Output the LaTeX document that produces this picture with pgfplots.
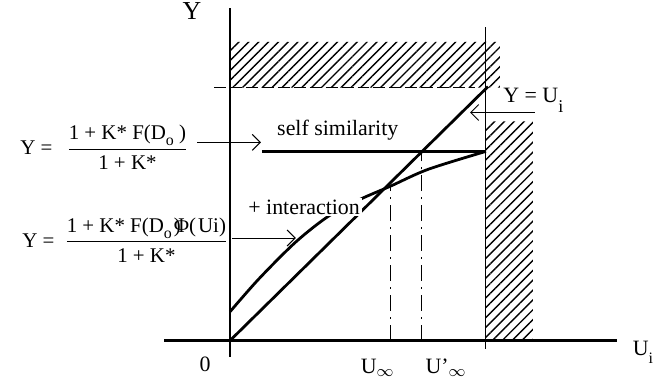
\documentclass[border=0pt]{standalone}
\usepackage{fontspec}
\setmainfont{Liberation Serif}
\usepackage{amsmath}
\usepackage{pgfplots}
\pgfplotsset{compat=1.18}
\usetikzlibrary{arrows.meta,patterns.meta}

\newcommand{\lowsub}[2]{\raisebox{-#1}{\fontsize{8}{9}\selectfont #2}}

\begin{document}
\begin{tikzpicture}
\begin{axis}[
x=0.5pt,y=0.5pt,
xmin=-231,xmax=422,
ymin=-39,ymax=342,
axis lines=none,
clip=false,
every axis plot/.append style={black,no markers},
]
% keep the page the size of the reference
\path (axis cs:-231,-39) rectangle (axis cs:422,342);
% hatched regions
\addplot[draw=none,pattern={Lines[angle=45,distance=3.5pt,line width=0.7pt]}]
  coordinates {(0,254)(271,254)(271,300)(0,300)} \closedcycle;
\addplot[draw=none,pattern={Lines[angle=45,distance=3.5pt,line width=0.7pt]}]
  coordinates {(257,0)(304,0)(304,220)(257,220)} \closedcycle;
% axes
\addplot[line width=1.4pt] coordinates {(-66,0)(389,0)};
\addplot[line width=1.4pt] coordinates {(0,-16)(0,334)};
% thin guides
\addplot[line width=0.5pt] coordinates {(257,-8)(257,315)};
\addplot[line width=0.5pt,dash pattern=on 6pt off 2pt] coordinates {(-16,254)(246,254)};
\addplot[line width=0.5pt,dash pattern=on 8pt off 3pt on 1pt off 3pt] coordinates {(161,0)(161,155)};
\addplot[line width=0.5pt,dash pattern=on 8pt off 3pt on 1pt off 3pt] coordinates {(192,0)(192,190)};
% Y = U_i
\addplot[line width=1.4pt] coordinates {(0,0)(259,255)};
% self similarity
\addplot[line width=1.4pt] coordinates {(32,190)(257,190)};
% + interaction
\addplot[line width=1.4pt,smooth] coordinates {(0,29)(29,62)(66,99)(99,125)(131,142)(161,155)(199,172)(257,190)};
% arrows
\addplot[line width=0.5pt,-{Straight Barb[length=4pt,width=8pt]}] coordinates {(-33,199)(31,199)};
\addplot[line width=0.5pt,-{Straight Barb[length=4pt,width=8pt]}] coordinates {(2,103)(66,103)};
\addplot[line width=0.5pt,-{Straight Barb[length=4pt,width=8pt]}] coordinates {(306,229)(241,229)};
% labels
\node[anchor=base west,font=\fontsize{13}{15}\selectfont,inner sep=0pt] at (axis cs:-48,322) {Y};
\node[anchor=base west,font=\fontsize{11}{13}\selectfont,inner sep=0pt] at (axis cs:-31,-31) {0};
\node[anchor=base west,font=\fontsize{11}{13}\selectfont,inner sep=0pt] at (axis cs:131,-33) {U$_\infty$};
\node[anchor=base west,font=\fontsize{11}{13}\selectfont,inner sep=0pt] at (axis cs:196,-33) {U'$_\infty$};
\node[anchor=base west,font=\fontsize{11}{13}\selectfont,inner sep=0pt] at (axis cs:404,-15) {U\lowsub{4pt}{i}};
\node[anchor=base west,font=\fontsize{11}{13}\selectfont,inner sep=0pt] at (axis cs:47,206) {self similarity};
\node[anchor=base west,font=\fontsize{11}{13}\selectfont,inner sep=1pt,fill=white] at (axis cs:16,127) {+ interaction};
\node[anchor=base west,font=\fontsize{11}{13}\selectfont,inner sep=0pt] at (axis cs:274,239) {Y = U\raisebox{-5pt}{\fontsize{9}{10}\selectfont i}};
\node[anchor=west,font=\fontsize{10.5}{12}\selectfont,inner sep=0pt] at (axis cs:-211,194)
  {Y =\hspace{7pt}$\dfrac{\text{1 + K* F(D\lowsub{3pt}{o} )}}{\text{1 + K*}}$};
\node[anchor=west,font=\fontsize{10.5}{12}\selectfont,inner sep=0pt] at (axis cs:-209,101)
  {Y =\hspace{5pt}$\dfrac{\text{1 + K* F(D\lowsub{3pt}{o}\kern1pt)\kern-3.5ptΦ(\kern1pt Ui)}}{\text{1 + K*}}$};
\end{axis}
\end{tikzpicture}
\end{document}
